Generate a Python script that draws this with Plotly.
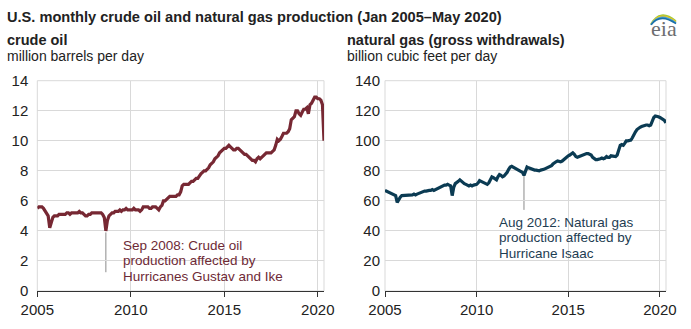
import pandas as pd
import plotly.graph_objects as go

W, H = 691, 329

months = pd.date_range("2005-01-01", "2020-05-01", freq="MS")

crude_oil = [
    5.5, 5.6, 5.6, 5.6, 5.5, 5.3, 5.2, 5.0, 4.2, 4.6, 4.9, 5.0,
    5.0, 5.0, 5.1, 5.1, 5.1, 5.1, 5.1, 5.2, 5.2, 5.1, 5.2, 5.2,
    5.2, 5.2, 5.2, 5.3, 5.2, 5.2, 5.1, 5.0, 5.0, 5.1, 5.1, 5.2,
    5.2, 5.2, 5.2, 5.2, 5.2, 5.2, 5.1, 4.9, 4.0, 4.7, 5.0, 5.1,
    5.2, 5.2, 5.3, 5.3, 5.3, 5.4, 5.3, 5.4, 5.4, 5.5, 5.4, 5.4,
    5.4, 5.4, 5.5, 5.4, 5.4, 5.4, 5.3, 5.4, 5.6, 5.6, 5.6, 5.6,
    5.5, 5.5, 5.6, 5.6, 5.6, 5.5, 5.4, 5.6, 5.7, 6.0, 6.0, 6.1,
    6.2, 6.3, 6.3, 6.3, 6.3, 6.3, 6.4, 6.4, 6.6, 7.0, 7.1, 7.1,
    7.1, 7.1, 7.2, 7.3, 7.3, 7.4, 7.5, 7.5, 7.7, 7.8, 7.9, 8.0,
    8.0, 8.1, 8.2, 8.4, 8.5, 8.6, 8.8, 8.9, 9.0, 9.2, 9.3, 9.4,
    9.5, 9.5, 9.6, 9.7, 9.6, 9.5, 9.4, 9.4, 9.5, 9.5, 9.4, 9.3,
    9.2, 9.1, 9.1, 9.0, 8.9, 8.8, 8.7, 8.7, 8.6, 8.8, 8.9, 8.8,
    8.9, 9.0, 9.1, 9.2, 9.2, 9.2, 9.2, 9.3, 9.4, 9.7, 10.1, 10.0,
    10.1, 10.3, 10.5, 10.5, 10.5, 10.6, 10.8, 11.4, 11.5, 11.6, 12.0, 12.0,
    11.8, 11.7, 11.9, 12.1, 12.1, 12.2, 11.8, 12.4, 12.5, 12.7, 12.9, 12.9,
    12.8, 12.8, 12.7, 12.4, 10.0,
]

natural_gas = [
    67, 66.5, 66, 65.5, 65, 65, 64, 63.5, 59, 61, 62.5, 63.5,
    63.5, 64, 63.5, 63.5, 63.5, 64, 64, 64.5, 64, 64.5, 65, 65,
    65.5, 66, 66.5, 66.5, 67, 67, 67, 67.5, 67, 67.5, 68, 69,
    69.5, 70, 70, 70.5, 70.5, 71, 70.5, 70, 63.5, 69, 71.5, 72,
    73, 74, 73, 72, 71.5, 71, 70.5, 70, 70.5, 70, 70.5, 70.5,
    71, 72, 73.5, 73, 72.5, 72, 71.5, 71, 72, 74, 76, 75.5,
    74.5, 74, 76, 77.5, 77, 76, 76.5, 77.5, 79, 81, 82.5, 83,
    82.5, 82, 81.5, 81, 80.5, 80, 79, 77, 80, 82.5, 82, 81.5,
    81, 81, 80.5, 80.5, 80, 80, 80.5, 80.5, 81, 81.5, 82, 82,
    82.5, 83.5, 84.5, 85.5, 86, 86.5, 86, 86, 86.5, 87.5, 88.5, 89.5,
    90, 90.5, 91.5, 92, 91, 89.5, 89, 89.5, 90, 90.5, 91, 91.5,
    91.5, 91.5, 91, 90.5, 89, 88, 87.5, 87.5, 87.5, 88, 88.5, 88,
    88.5, 89.5, 89, 89, 90, 90, 89.5, 89.5, 90.5, 94, 97, 97.5,
    97, 98.5, 100, 100, 100, 100.5, 102, 104.5, 106, 107.5, 108.5, 109,
    109.5, 110, 110, 110.5, 110.5, 110, 110.5, 113, 115.5, 116.5, 116.5, 116,
    115.5, 115, 114.5, 113.5, 112,
]

year_ticks = ["2005-01-01", "2010-01-01", "2015-01-01", "2020-01-01"]
year_labels = ["2005", "2010", "2015", "2020"]
oil_ticks = [0, 2, 4, 6, 8, 10, 12, 14]
gas_ticks = [0, 20, 40, 60, 80, 100, 120, 140]

OIL_COLOR = "#772833"
GAS_COLOR = "#0b3b53"
GRID = "#d9d9d9"
FONT = "Liberation Sans, Arial, sans-serif"


def px_x(v):
    return v / W


def px_y(v):
    return 1 - v / H


fig = go.Figure()
fig.add_trace(go.Scatter(x=months, y=crude_oil, mode="lines",
                         line=dict(color=OIL_COLOR, width=3.2), xaxis="x", yaxis="y",
                         hoverinfo="skip"))
fig.add_trace(go.Scatter(x=months, y=natural_gas, mode="lines",
                         line=dict(color=GAS_COLOR, width=3.2), xaxis="x2", yaxis="y2",
                         hoverinfo="skip"))

ydom = [px_y(291), px_y(80.7)]
xrange = ["2005-01-01", "2020-05-01"]

xcommon = dict(type="date", range=xrange, tickvals=year_ticks, ticktext=year_labels,
               showgrid=True, gridcolor=GRID, gridwidth=1, showline=True,
               linecolor="#333333", linewidth=1, ticks="outside", ticklen=5,
               tickcolor="#333333", tickfont=dict(family=FONT, size=15, color="#222222"),
               zeroline=False, fixedrange=True, automargin=False)

ycommon = dict(showgrid=True, gridcolor=GRID, gridwidth=1, showline=False, zeroline=False,
               ticks="", tickfont=dict(family=FONT, size=15, color="#222222"),
               automargin=False, fixedrange=True)

fig.update_layout(
    template="none",
    width=W, height=H, margin=dict(l=0, r=0, t=0, b=0, pad=0),
    paper_bgcolor="white", plot_bgcolor="white", showlegend=False,
    font=dict(family=FONT, color="#222222"),
    xaxis=dict(domain=[px_x(37.3), px_x(324)], anchor="y", **xcommon),
    xaxis2=dict(domain=[px_x(385), px_x(666)], anchor="y2", **xcommon),
    yaxis=dict(domain=ydom, anchor="x", range=[0, 14], tickvals=oil_ticks,
               ticklabelstandoff=8, **ycommon),
    yaxis2=dict(domain=ydom, anchor="x2", range=[0, 140], tickvals=gas_ticks,
                ticklabelstandoff=4, **ycommon),
)

shapes = []
for xa, ya in (("x", "y"), ("x2", "y2")):
    shapes.append(dict(type="rect", xref=f"{xa} domain", yref=f"{ya} domain",
                       x0=0, x1=1, y0=0, y1=1, line=dict(color=GRID, width=1),
                       layer="below"))
shapes.append(dict(type="line", xref="x", yref="y", x0="2008-09-01", x1="2008-09-01",
                   y0=3.9, y1=1.25, line=dict(color="#8a8a8a", width=1), layer="below"))
shapes.append(dict(type="line", xref="x2", yref="y2", x0="2012-08-01", x1="2012-08-01",
                   y0=77, y1=54, line=dict(color="#8a8a8a", width=1), layer="below"))

# eia logo swooshes
for (c, dy) in (("#9fc93c", 0), ("#f2c21b", 1.5), ("#4aa8d8", 3), ("#1b6fa8", 4.5)):
    x0, y0 = 651, 24 + dy * 0.2
    cx, cy = 660, 8 + dy
    x1, y1 = 676, 21 + dy * 0.6
    path = f"M {px_x(x0)},{px_y(y0)} Q {px_x(cx)},{px_y(cy)} {px_x(x1)},{px_y(y1)}"
    shapes.append(dict(type="path", xref="paper", yref="paper", path=path,
                       line=dict(color=c, width=1.6)))
fig.update_layout(shapes=shapes)

ann = []


def text(x, y, s, size=14, color="#222222", bold=False, family=FONT):
    if bold:
        s = f"<b>{s}</b>"
    ann.append(dict(x=px_x(x), y=px_y(y), xref="paper", yref="paper", text=s,
                    showarrow=False, xanchor="left", yanchor="middle",
                    font=dict(family=family, size=size, color=color)))


text(5, 17, "U.S. monthly crude oil and natural gas production (Jan 2005\u2013May 2020)",
     size=14.6, bold=True)
text(5, 40, "crude oil", size=14.5, bold=True)
text(5, 56, "million barrels per day", size=14)
text(345, 40, "natural gas (gross withdrawals)", size=14.5, bold=True)
text(345, 56, "billion cubic feet per day", size=14)

oil_note = ["Sep 2008: Crude oil", "production affected by", "Hurricanes Gustav and Ike"]
for i, s in enumerate(oil_note):
    text(121, 245 + i * 15.5, s, size=13.5, color="#6e2a36")
gas_note = ["Aug 2012: Natural gas", "production affected by", "Hurricane Isaac"]
for i, s in enumerate(gas_note):
    text(497, 222 + i * 15.5, s, size=13.5, color="#1e3d52")

text(649, 29, "eia", size=22, color="#6d6e71", family="Liberation Serif, serif")

fig.update_layout(annotations=ann)
fig.write_html("out.html")
